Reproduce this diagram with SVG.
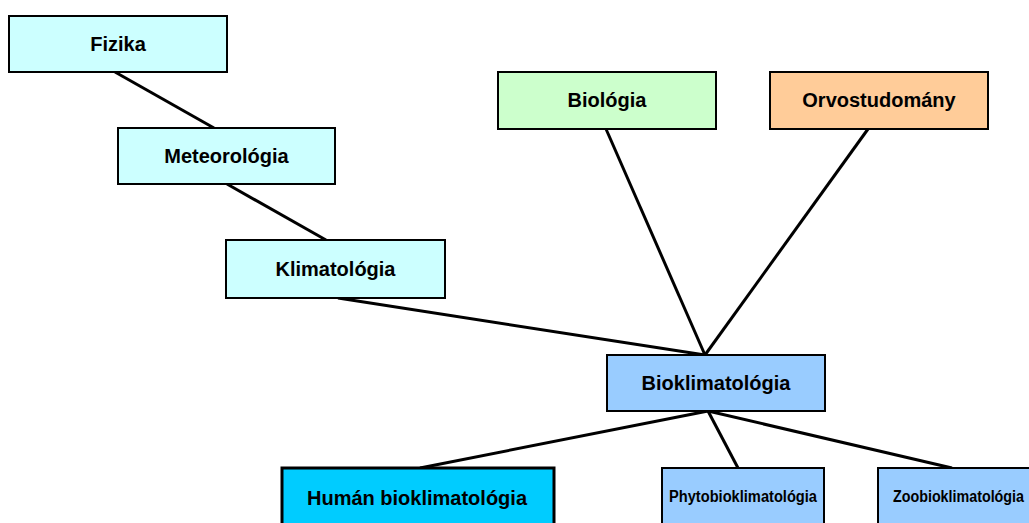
<svg xmlns="http://www.w3.org/2000/svg" width="1029" height="523" viewBox="0 0 1029 523">
<style>
.box{stroke:#000;stroke-width:2}
.t{font-family:"Liberation Sans",Arial,sans-serif;font-weight:bold;font-size:20px;fill:#000;text-anchor:middle}
.s{font-family:"Liberation Sans",Arial,sans-serif;font-weight:bold;font-size:16px;fill:#000}
.cy{fill:#CCFFFF}.gr{fill:#CCFFCC}.or{fill:#FFCC99}.bl{fill:#99CCFF}.hu{fill:#00CCFF}
.ln{stroke:#000;stroke-width:3;fill:none}
</style>
<rect width="1029" height="523" fill="#fff"/>
<g id="connectors">
<line class="ln" x1="115" y1="72" x2="214" y2="128"/>
<line class="ln" x1="227" y1="184" x2="326" y2="240"/>
<line class="ln" x1="338" y1="298" x2="705" y2="355"/>
<line class="ln" x1="606" y1="129" x2="705" y2="355"/>
<line class="ln" x1="868" y1="129" x2="705" y2="355"/>
<line class="ln" x1="708" y1="411" x2="420" y2="468"/>
<line class="ln" x1="708" y1="411" x2="738" y2="468"/>
<line class="ln" x1="708" y1="411" x2="952" y2="468"/>
</g>
<g id="fizika"><rect class="box cy" x="9" y="16" width="218" height="56"/><text class="t" x="118" y="51">Fizika</text></g>
<g id="meteorologia"><rect class="box cy" x="118" y="128" width="217" height="56"/><text class="t" x="226.5" y="163">Meteorológia</text></g>
<g id="klimatologia"><rect class="box cy" x="226" y="240" width="219" height="58"/><text class="t" x="335.5" y="276">Klimatológia</text></g>
<g id="biologia"><rect class="box gr" x="498" y="72" width="218" height="57"/><text class="t" x="607" y="107">Biológia</text></g>
<g id="orvostudomany"><rect class="box or" x="770" y="72" width="218" height="57"/><text class="t" x="879" y="107">Orvostudomány</text></g>
<g id="bioklimatologia"><rect class="box bl" x="607" y="355" width="218" height="56"/><text class="t" x="716" y="390">Bioklimatológia</text></g>
<g id="human"><rect class="hu" x="282" y="468" width="272" height="60" stroke="#000" stroke-width="3"/><text class="t" x="417" y="505">Humán bioklimatológia</text></g>
<g id="phyto"><rect class="box bl" x="662" y="468" width="162" height="60"/><text class="s" x="669" y="502" textLength="148" lengthAdjust="spacingAndGlyphs">Phytobioklimatológia</text></g>
<g id="zoo"><rect class="box bl" x="878" y="468" width="168" height="60"/><text class="s" x="893" y="502" textLength="131" lengthAdjust="spacingAndGlyphs">Zoobioklimatológia</text></g>
</svg>
